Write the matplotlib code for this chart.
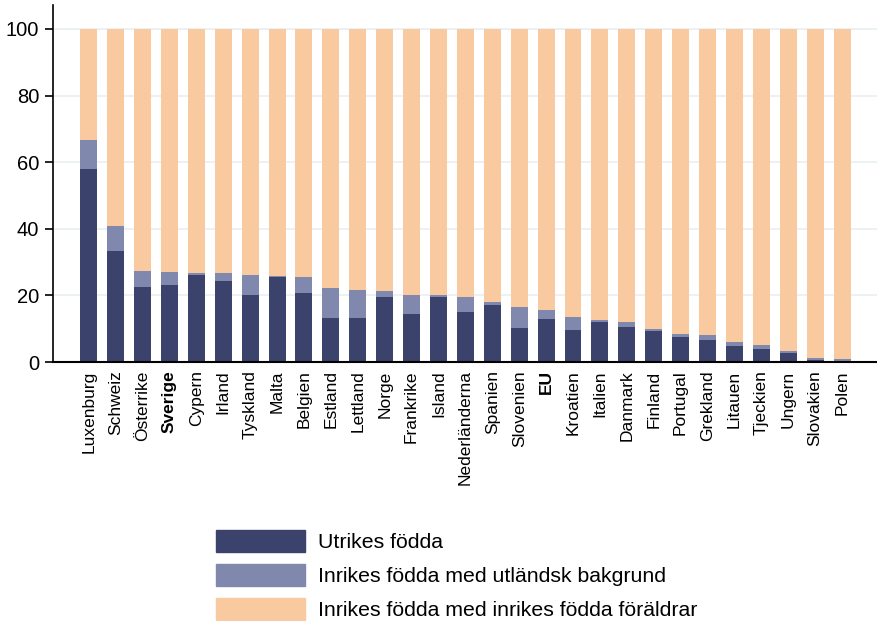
import matplotlib.pyplot as plt
import numpy as np
from matplotlib.patches import Patch

plt.rcParams['font.family'] = ['Liberation Sans', 'DejaVu Sans']

countries = ["Luxenburg", "Schweiz", "Österrike", "Sverige", "Cypern", "Irland", "Tyskland",
             "Malta", "Belgien", "Estland", "Lettland", "Norge", "Frankrike", "Island",
             "Nederländerna", "Spanien", "Slovenien", "EU", "Kroatien", "Italien", "Danmark",
             "Finland", "Portugal", "Grekland", "Litauen", "Tjeckien", "Ungern", "Slovakien", "Polen"]

# utrikes födda
foreign_born = [58.0, 33.3, 22.5, 23.1, 26.1, 24.3, 20.1, 25.5, 20.7, 13.2, 13.2, 19.5, 14.4, 19.5,
                15.0, 17.1, 10.2, 12.9, 9.6, 12.0, 10.5, 9.3, 7.6, 6.6, 4.8, 3.9, 2.7, 0.6, 0.3]
# inrikes födda med utländsk bakgrund (top of stack minus foreign_born)
stack_top = [66.7, 40.8, 27.3, 27.0, 26.7, 26.7, 26.1, 25.8, 25.5, 22.2, 21.6, 21.3, 20.1, 20.1,
             19.5, 18.0, 16.5, 15.6, 13.5, 12.6, 12.0, 9.9, 8.4, 8.1, 6.0, 5.1, 3.3, 1.2, 0.9]
foreign_bg = [t - f for t, f in zip(stack_top, foreign_born)]
native = [100 - t for t in stack_top]

bold_labels = ["Sverige", "EU"]

c_dark = "#3b426b"
c_mid = "#8188ae"
c_light = "#f9c9a0"

fig = plt.figure(figsize=(8.77, 6.21), dpi=100)
ax = fig.add_axes([0.0604, 0.417, 0.9396, 0.575])

x = np.arange(len(countries))
w = 0.63
ax.bar(x, foreign_born, w, color=c_dark, zorder=2)
ax.bar(x, foreign_bg, w, bottom=foreign_born, color=c_mid, zorder=2)
ax.bar(x, native, w, bottom=stack_top, color=c_light, zorder=2)

ax.set_ylim(0, 107.2)
ax.set_xlim(-1.33, 29.3)
ax.set_yticks([0, 20, 40, 60, 80, 100])
ax.yaxis.grid(True, color="#e9eff2", linewidth=1.2, zorder=0)
ax.set_axisbelow(True)
ax.tick_params(axis='y', labelsize=14.5, length=6, width=1.2, pad=4)
ax.tick_params(axis='x', length=0, labelsize=12.5, pad=6)
ax.set_xticks(x)
ax.set_xticklabels(countries, rotation=90)
for lab in ax.get_xticklabels():
    if lab.get_text() in bold_labels:
        lab.set_fontweight('bold')

ax.spines['top'].set_visible(False)
ax.spines['right'].set_visible(False)
ax.spines['left'].set_linewidth(1.2)
ax.spines['bottom'].set_linewidth(1.5)

handles = [Patch(color=c_dark), Patch(color=c_mid), Patch(color=c_light)]
labels = ["Utrikes födda", "Inrikes födda med utländsk bakgrund",
          "Inrikes födda med inrikes födda föräldrar"]
fig.legend(handles, labels, loc='upper left', bbox_to_anchor=(216 / 877, 1 - 530 / 621),
           frameon=False, fontsize=15.3, handlelength=4.2, handleheight=1.2,
           labelspacing=0.56, handletextpad=0.6, borderpad=0, borderaxespad=0)

fig.savefig("out.png", dpi=100)
